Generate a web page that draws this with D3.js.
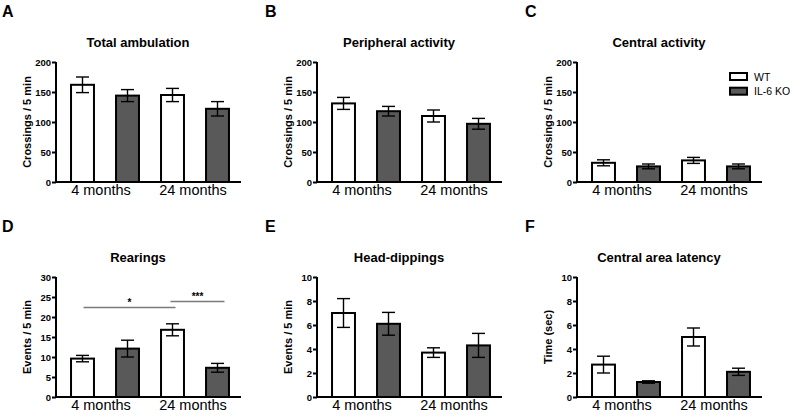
<!DOCTYPE html>
<html>
<head>
<meta charset="utf-8">
<script src="https://cdn.jsdelivr.net/npm/d3@7"></script>
<style>
  html, body { margin: 0; padding: 0; background: #fff; }
  svg { display: block; font-family: Arial, "Liberation Sans", sans-serif; }
</style>
</head>
<body>
<svg id="chart" width="793" height="416"></svg>
<script>
// ---- data (order of each array: WT 4 months, IL-6 KO 4 months, WT 24 months, IL-6 KO 24 months)
const groups = ["4 months", "24 months"];
const series = ["WT", "IL-6 KO"];

const panelLetters = ["A", "B", "C", "D", "E", "F"];
const panelTitles = ["Total ambulation", "Peripheral activity", "Central activity",
                     "Rearings", "Head-dippings", "Central area latency"];
const yLabels = ["Crossings / 5 min", "Crossings / 5 min", "Crossings / 5 min",
                 "Events / 5 min", "Events / 5 min", "Time (sec)"];
const yMaxes = [200, 200, 200, 30, 10, 10];
const yTickSteps = [50, 50, 50, 5, 2, 2];

const totalAmbulationMean = [162, 144, 145, 122];
const totalAmbulationSem  = [13, 10, 11, 12];
const peripheralMean = [131, 118, 110, 97];
const peripheralSem  = [10, 8, 10, 9];
const centralMean = [32, 26, 36, 26];
const centralSem  = [5, 4, 5, 4];
const rearingsMean = [9.6, 12.1, 16.8, 7.3];
const rearingsSem  = [0.8, 2.1, 1.5, 1.1];
const headDippingsMean = [7.0, 6.1, 3.7, 4.3];
const headDippingsSem  = [1.2, 0.95, 0.4, 1.0];
const latencyMean = [2.7, 1.25, 5.0, 2.1];
const latencySem  = [0.7, 0.1, 0.75, 0.3];

const means = [totalAmbulationMean, peripheralMean, centralMean, rearingsMean, headDippingsMean, latencyMean];
const sems  = [totalAmbulationSem, peripheralSem, centralSem, rearingsSem, headDippingsSem, latencySem];

// significance brackets in panel D (Rearings): from bar index to bar index, at value, label
const sigFrom   = [0, 2];
const sigTo     = [2, 3];
const sigLevel  = [22.4, 23.9];
const sigLabels = ["*", "***"];

// ---- layout
const svg = d3.select("#chart");
const colX = [56, 317, 577];
const rowY = [62, 277];
const plotW = 185, plotH = 120;
const koFill = "#595959";

const x0 = d3.scaleBand().domain(groups).range([4, 184]).padding(0);
const x1 = d3.scaleBand().domain(series).range([0, x0.bandwidth()]).paddingInner(0.49).paddingOuter(0.245);

function barX(i) { return x0(groups[Math.floor(i / 2)]) + x1(series[i % 2]); }

panelTitles.forEach((title, p) => {
  const col = p % 3, row = Math.floor(p / 3);
  const ox = colX[col], oy = rowY[row];
  const g = svg.append("g").attr("transform", `translate(${ox},${oy})`);
  const y = d3.scaleLinear().domain([0, yMaxes[p]]).range([plotH, 0]);

  // panel letter
  svg.append("text").attr("x", col === 0 ? 2 : ox - 52).attr("y", oy - 45)
    .attr("font-size", 16).attr("font-weight", "bold").text(panelLetters[p]);

  // title
  g.append("text").attr("x", 82).attr("y", -15).attr("text-anchor", "middle")
    .attr("font-size", 13).attr("font-weight", "bold").text(title);

  // y label
  g.append("text").attr("transform", `translate(-25,${plotH / 2}) rotate(-90)`)
    .attr("text-anchor", "middle").attr("font-size", 11).attr("font-weight", "bold")
    .text(yLabels[p]);

  // bars
  const vals = means[p], errs = sems[p];
  const bars = vals.map((v, i) => ({ v, e: errs[i], i }));
  g.selectAll("rect.bar").data(bars).join("rect")
    .attr("class", "bar")
    .attr("x", d => barX(d.i)).attr("width", x1.bandwidth())
    .attr("y", d => y(d.v)).attr("height", d => y(0) - y(d.v))
    .attr("fill", d => d.i % 2 === 0 ? "#fff" : koFill)
    .attr("stroke", "#000").attr("stroke-width", 2);

  // error bars
  const capW = 13;
  const eb = g.selectAll("g.err").data(bars).join("g").attr("class", "err");
  eb.append("line")
    .attr("x1", d => barX(d.i) + x1.bandwidth() / 2).attr("x2", d => barX(d.i) + x1.bandwidth() / 2)
    .attr("y1", d => y(d.v - d.e)).attr("y2", d => y(d.v + d.e))
    .attr("stroke", "#000").attr("stroke-width", 1.4);
  [1, -1].forEach(s => {
    eb.append("line")
      .attr("x1", d => barX(d.i) + x1.bandwidth() / 2 - capW / 2)
      .attr("x2", d => barX(d.i) + x1.bandwidth() / 2 + capW / 2)
      .attr("y1", d => y(d.v + s * d.e)).attr("y2", d => y(d.v + s * d.e))
      .attr("stroke", "#000").attr("stroke-width", 1.4);
  });

  // y axis
  const ticks = d3.range(0, yMaxes[p] + 1e-9, yTickSteps[p]);
  const yAxis = g.append("g").call(d3.axisLeft(y).tickValues(ticks).tickSize(4).tickPadding(1).tickFormat(d3.format("d")));
  yAxis.select(".domain").attr("stroke", "#000").attr("stroke-width", 2).attr("d", `M0,${plotH + 1}V0`);
  yAxis.selectAll(".tick line").attr("stroke", "#000").attr("stroke-width", 2);
  yAxis.selectAll(".tick text").attr("font-size", 9.5).attr("font-weight", "bold")
    .attr("font-family", "Arial, 'Liberation Sans', sans-serif").attr("fill", "#000");

  // x axis
  const xAxis = g.append("g").attr("transform", `translate(0,${plotH})`)
    .call(d3.axisBottom(x0).tickSize(0).tickPadding(3));
  xAxis.select(".domain").attr("stroke", "#000").attr("stroke-width", 2).attr("d", `M-1,0H${plotW}`);
  xAxis.selectAll(".tick text").attr("font-size", 14.5).attr("dy", "0.71em")
    .attr("font-family", "Arial, 'Liberation Sans', sans-serif").attr("fill", "#000")
    .attr("dx", (d, i) => i === 0 ? -4 : -2);

  // legend (panel C)
  if (p === 2) {
    const lg = g.append("g").attr("transform", `translate(${153},${11})`);
    series.forEach((s, i) => {
      lg.append("rect").attr("x", 0).attr("y", i * 14.7).attr("width", 17).attr("height", 7)
        .attr("fill", i === 0 ? "#fff" : koFill).attr("stroke", "#000").attr("stroke-width", 2);
      lg.append("text").attr("x", 24).attr("y", i * 14.7 + 7.5).attr("font-size", 10.5).text(s);
    });
  }

  // significance (panel D)
  if (p === 3) {
    const cx = i => barX(i) + x1.bandwidth() / 2;
    sigFrom.forEach((f, k) => {
      const xa = cx(f) + (k === 0 ? 1 : -2);
      const xb = cx(sigTo[k]) + (k === 0 ? 3 : 7);
      g.append("line").attr("x1", xa).attr("x2", xb)
        .attr("y1", y(sigLevel[k])).attr("y2", y(sigLevel[k]))
        .attr("stroke", "#7a7a7a").attr("stroke-width", 1.5);
      g.append("text").attr("x", (xa + xb) / 2).attr("y", y(sigLevel[k]) - 1)
        .attr("text-anchor", "middle").attr("font-size", 10).attr("font-weight", "bold").text(sigLabels[k]);
    });
  }
});
</script>
</body>
</html>
